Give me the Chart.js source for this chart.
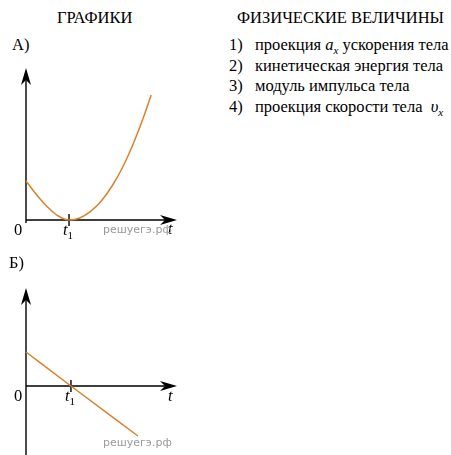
<!DOCTYPE html>
<html><head><meta charset="utf-8">
<script src="https://cdn.jsdelivr.net/npm/chart.js@4/dist/chart.umd.min.js"></script>
<style>
html,body{margin:0;padding:0;background:#fff}
body{width:451px;height:455px;position:relative;overflow:hidden;font-family:"Liberation Serif","DejaVu Serif",serif;color:#000}
.t{position:absolute;white-space:nowrap;font-size:16.5px;line-height:16px}
.i{font-style:italic}
.sub{font-size:11px;position:relative;top:4px}
.wm{position:absolute;white-space:nowrap;font-family:"DejaVu Sans",sans-serif;font-size:11px;line-height:11px;color:#9a9a9a}
.box{position:absolute;left:0;width:200px}
</style>
</head><body>
<div class="t" style="left:57px;top:10px">ГРАФИКИ</div>
<div class="t" style="left:237px;top:10px">ФИЗИЧЕСКИЕ ВЕЛИЧИНЫ</div>
<div class="t" style="left:229px;top:37px">1)</div><div class="t" style="left:255px;top:37px">проекция <span class="i">a<span class="sub">x</span></span> ускорения тела</div>
<div class="t" style="left:229px;top:58px">2)</div><div class="t" style="left:255px;top:58px">кинетическая энергия тела</div>
<div class="t" style="left:229px;top:78px">3)</div><div class="t" style="left:255px;top:78px">модуль импульса тела</div>
<div class="t" style="left:229px;top:99px">4)</div><div class="t" style="left:255px;top:99px">проекция скорости тела&nbsp; <span class="i">υ<span class="sub">x</span></span></div>

<div class="t" style="left:12px;top:37px">А)</div>
<div class="box" style="top:60px;height:180px"><canvas id="cA"></canvas></div>
<div class="t" style="left:14px;top:222px">0</div>
<div class="t" style="left:63px;top:222px"><span class="i">t</span><span class="sub">1</span></div>
<div class="t i" style="left:168px;top:221px">t</div>
<div class="wm" style="left:103px;top:224px">решуегэ.рф</div>

<div class="t" style="left:9px;top:255px">Б)</div>
<div class="box" style="top:280px;height:175px"><canvas id="cB"></canvas></div>
<div class="t" style="left:14px;top:388px">0</div>
<div class="t" style="left:65px;top:388px"><span class="i">t</span><span class="sub">1</span></div>
<div class="t i" style="left:168px;top:388px">t</div>
<div class="wm" style="left:103px;top:437px">решуегэ.рф</div>

<script>
// Graph A: curve (t in units of t1)
const tA = [0, 0.25, 0.5, 0.75, 1, 1.25, 1.5, 1.75, 2, 2.25, 2.5, 2.75, 2.91];
const yA = [39, 25, 13, 4, 0, 2, 8.6, 19, 34, 53, 77, 105, 125];
const xRangeA = [0, 3.51];
const yRangeA = [0, 152];

// Graph B: straight line
const tB = [0, 1, 2.49];
const yB = [34, 0, -50];
const xRangeB = [0, 3.36];
const yRangeB = [-69, 98];

const t1 = 1;
const lineColor = '#d9822b';

function arrowUp(ctx, x, y) {
  ctx.beginPath();
  ctx.moveTo(x, y);
  ctx.lineTo(x + 5, y + 17);
  ctx.lineTo(x, y + 12);
  ctx.lineTo(x - 5, y + 17);
  ctx.closePath();
  ctx.fill();
}
function arrowRight(ctx, x, y) {
  ctx.beginPath();
  ctx.moveTo(x, y);
  ctx.lineTo(x - 17, y - 5);
  ctx.lineTo(x - 12, y);
  ctx.lineTo(x - 17, y + 5);
  ctx.closePath();
  ctx.fill();
}

const axesPlugin = {
  id: 'axes',
  beforeDatasetsDraw(chart, args, opts) {
    const {ctx, chartArea: a, scales: {x, y}} = chart;
    const x0 = x.getPixelForValue(0);
    const y0 = y.getPixelForValue(0);
    const xt = x.getPixelForValue(t1);
    ctx.save();
    ctx.strokeStyle = '#000';
    ctx.fillStyle = '#000';
    ctx.lineWidth = 1.4;
    ctx.beginPath();
    ctx.moveTo(x0, Math.min(a.bottom + opts.below, chart.height));
    ctx.lineTo(x0, a.top + 8);
    ctx.moveTo(x0, y0);
    ctx.lineTo(a.right - 8, y0);
    ctx.moveTo(xt, y0 - 6);
    ctx.lineTo(xt, y0 + 6);
    ctx.stroke();
    arrowUp(ctx, x0, a.top);
    arrowRight(ctx, a.right, y0);
    ctx.restore();
  }
};

function makeChart(id, xs, ys, xr, yr, pad, below) {
  return new Chart(document.getElementById(id), {
    type: 'line',
    data: {
      datasets: [{
        data: xs.map((t, i) => ({x: t, y: ys[i]})),
        borderColor: lineColor,
        borderWidth: 1.5,
        pointRadius: 0,
        cubicInterpolationMode: 'monotone',
        fill: false,
        clip: false
      }]
    },
    options: {
      responsive: true,
      maintainAspectRatio: false,
      animation: false,
      events: [],
      layout: {padding: pad},
      plugins: {legend: {display: false}, tooltip: {enabled: false}, axes: {below: below}},
      scales: {
        x: {type: 'linear', min: xr[0], max: xr[1], display: false},
        y: {type: 'linear', min: yr[0], max: yr[1], display: false}
      }
    },
    plugins: [axesPlugin]
  });
}

makeChart('cA', tA, yA, xRangeA, yRangeA, {left: 26, top: 8, right: 23, bottom: 20}, 3);
makeChart('cB', tB, yB, xRangeB, yRangeB, {left: 26, top: 8, right: 23, bottom: 0}, 0);
</script>
</body></html>
